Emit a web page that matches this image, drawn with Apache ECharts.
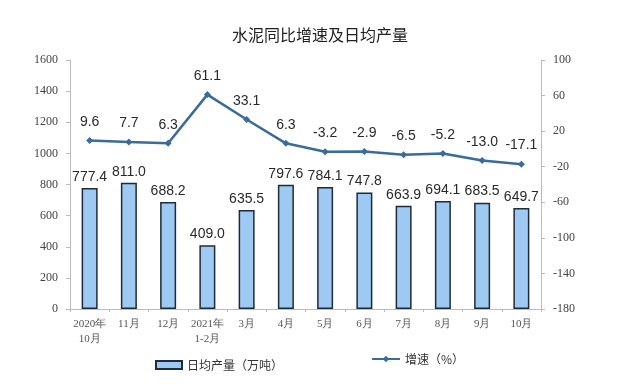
<!DOCTYPE html>
<html><head><meta charset="utf-8">
<script src="https://cdn.jsdelivr.net/npm/echarts@6/dist/echarts.min.js"></script>
<style>html,body{margin:0;padding:0;background:#fff}#c{width:640px;height:385px}</style>
</head><body><div id="c"></div>
<script>
const categories = ['2020年\n10月','11月','12月','2021年\n1-2月','3月','4月','5月','6月','7月','8月','9月','10月'];
const output = [777.4, 811.0, 688.2, 409.0, 635.5, 797.6, 784.1, 747.8, 663.9, 694.1, 683.5, 649.7];
const growth = [9.6, 7.7, 6.3, 61.1, 33.1, 6.3, -3.2, -2.9, -6.5, -5.2, -13.0, -17.1];
const leftTicks = [0, 200, 400, 600, 800, 1000, 1200, 1400, 1600];
const rightTicks = [-180, -140, -100, -60, -20, 20, 60, 100];

const chart = echarts.init(document.getElementById('c'));
const serif = '"Liberation Serif", "DejaVu Serif", serif';
const cjk = '"Noto Sans CJK SC", sans-serif';
const sans = '"Liberation Sans", Arial, sans-serif';
chart.setOption({
  animation: false,
  title: {text: '水泥同比增速及日均产量', left: 'center', top: 22,
    textStyle: {fontSize: 16, fontWeight: 'normal', color: '#222', fontFamily: cjk}},
  grid: {left: 70, right: 99, top: 60, bottom: 76},
  legend: [{
    left: 150, top: 354, itemWidth: 26, itemHeight: 8, itemGap: 4,
    textStyle: {fontSize: 12, color: '#333', fontFamily: cjk},
    data: [{name: '日均产量（万吨）', icon: 'rect'}]
  }, {
    left: 366, top: 348, itemWidth: 28, itemHeight: 8,
    textStyle: {fontSize: 12, color: '#333', fontFamily: cjk},
    data: [{name: '增速（%）'}]
  }],
  xAxis: {
    type: 'category', data: categories,
    axisLine: {lineStyle: {color: '#bbb'}},
    axisTick: {show: true, alignWithLabel: false, lineStyle: {color: '#bbb'}, length: 3},
    axisLabel: {interval: 0, color: '#555', fontSize: 11, fontFamily: serif, lineHeight: 15, margin: 8}
  },
  yAxis: [{
    type: 'value', min: leftTicks[0], max: leftTicks[leftTicks.length-1], interval: 200,
    axisLine: {show: true, lineStyle: {color: '#bbb'}},
    axisTick: {show: true, length: 4, lineStyle: {color: '#bbb'}},
    splitLine: {show: false},
    axisLabel: {color: '#444', fontSize: 12, fontFamily: serif, margin: 12, formatter: v => String(v)}
  }, {
    type: 'value', min: rightTicks[0], max: rightTicks[rightTicks.length-1], interval: 40,
    axisLine: {show: true, lineStyle: {color: '#bbb'}},
    axisTick: {show: true, length: 4, lineStyle: {color: '#bbb'}},
    splitLine: {show: false},
    axisLabel: {color: '#444', fontSize: 12, fontFamily: serif, margin: 12, formatter: v => String(v)}
  }],
  series: [{
    name: '日均产量（万吨）', type: 'bar', data: output, barWidth: 16, yAxisIndex: 0,
    itemStyle: {color: '#9dc9f2', borderColor: '#1f2b3a', borderWidth: 1.5},
    label: {show: true, position: 'top', distance: 4, color: '#2a2a2a', fontSize: 14,
      fontFamily: sans, formatter: p => p.value.toFixed(1)}
  }, {
    name: '增速（%）', type: 'line', data: growth, yAxisIndex: 1,
    symbol: 'diamond', symbolSize: 7,
    lineStyle: {color: '#3a6b9e', width: 2.5},
    itemStyle: {color: '#3a6b9e'},
    label: {show: true, position: 'top', distance: 8, color: '#2a2a2a', fontSize: 14,
      fontFamily: sans, formatter: p => p.value.toFixed(1)}
  }]
});
</script></body></html>
